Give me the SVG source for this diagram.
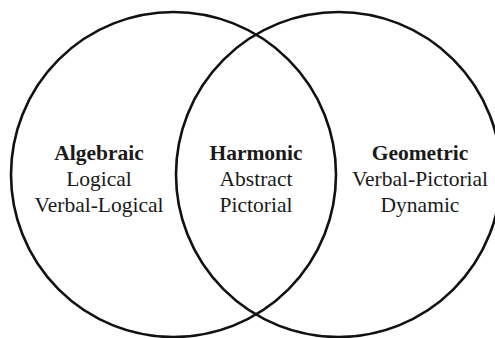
<svg xmlns="http://www.w3.org/2000/svg" width="495" height="338" viewBox="0 0 495 338">
<style>
.c{fill:none;stroke:#111;stroke-width:2.6}
.t{font-size:21.5px;fill:#1a1a1a;text-anchor:middle;font-family:"Liberation Serif","Times New Roman",serif}
.b{font-weight:bold}
</style>
<rect width="495" height="338" fill="#fff"/>
<g id="algebraic">
<circle class="c" cx="173.5" cy="174.5" r="162.5"/>
<text class="t b" x="99" y="159.5">Algebraic</text>
<text class="t" x="99" y="185.5">Logical</text>
<text class="t" x="99" y="211.5">Verbal-Logical</text>
</g>
<g id="geometric">
<circle class="c" cx="338.5" cy="174.5" r="162.5"/>
<text class="t b" x="420" y="159.5">Geometric</text>
<text class="t" x="420" y="185.5">Verbal-Pictorial</text>
<text class="t" x="420" y="211.5">Dynamic</text>
</g>
<g id="harmonic">
<text class="t b" x="256" y="159.5">Harmonic</text>
<text class="t" x="256" y="185.5">Abstract</text>
<text class="t" x="256" y="211.5">Pictorial</text>
</g>
<g id="connectors"></g>
</svg>
